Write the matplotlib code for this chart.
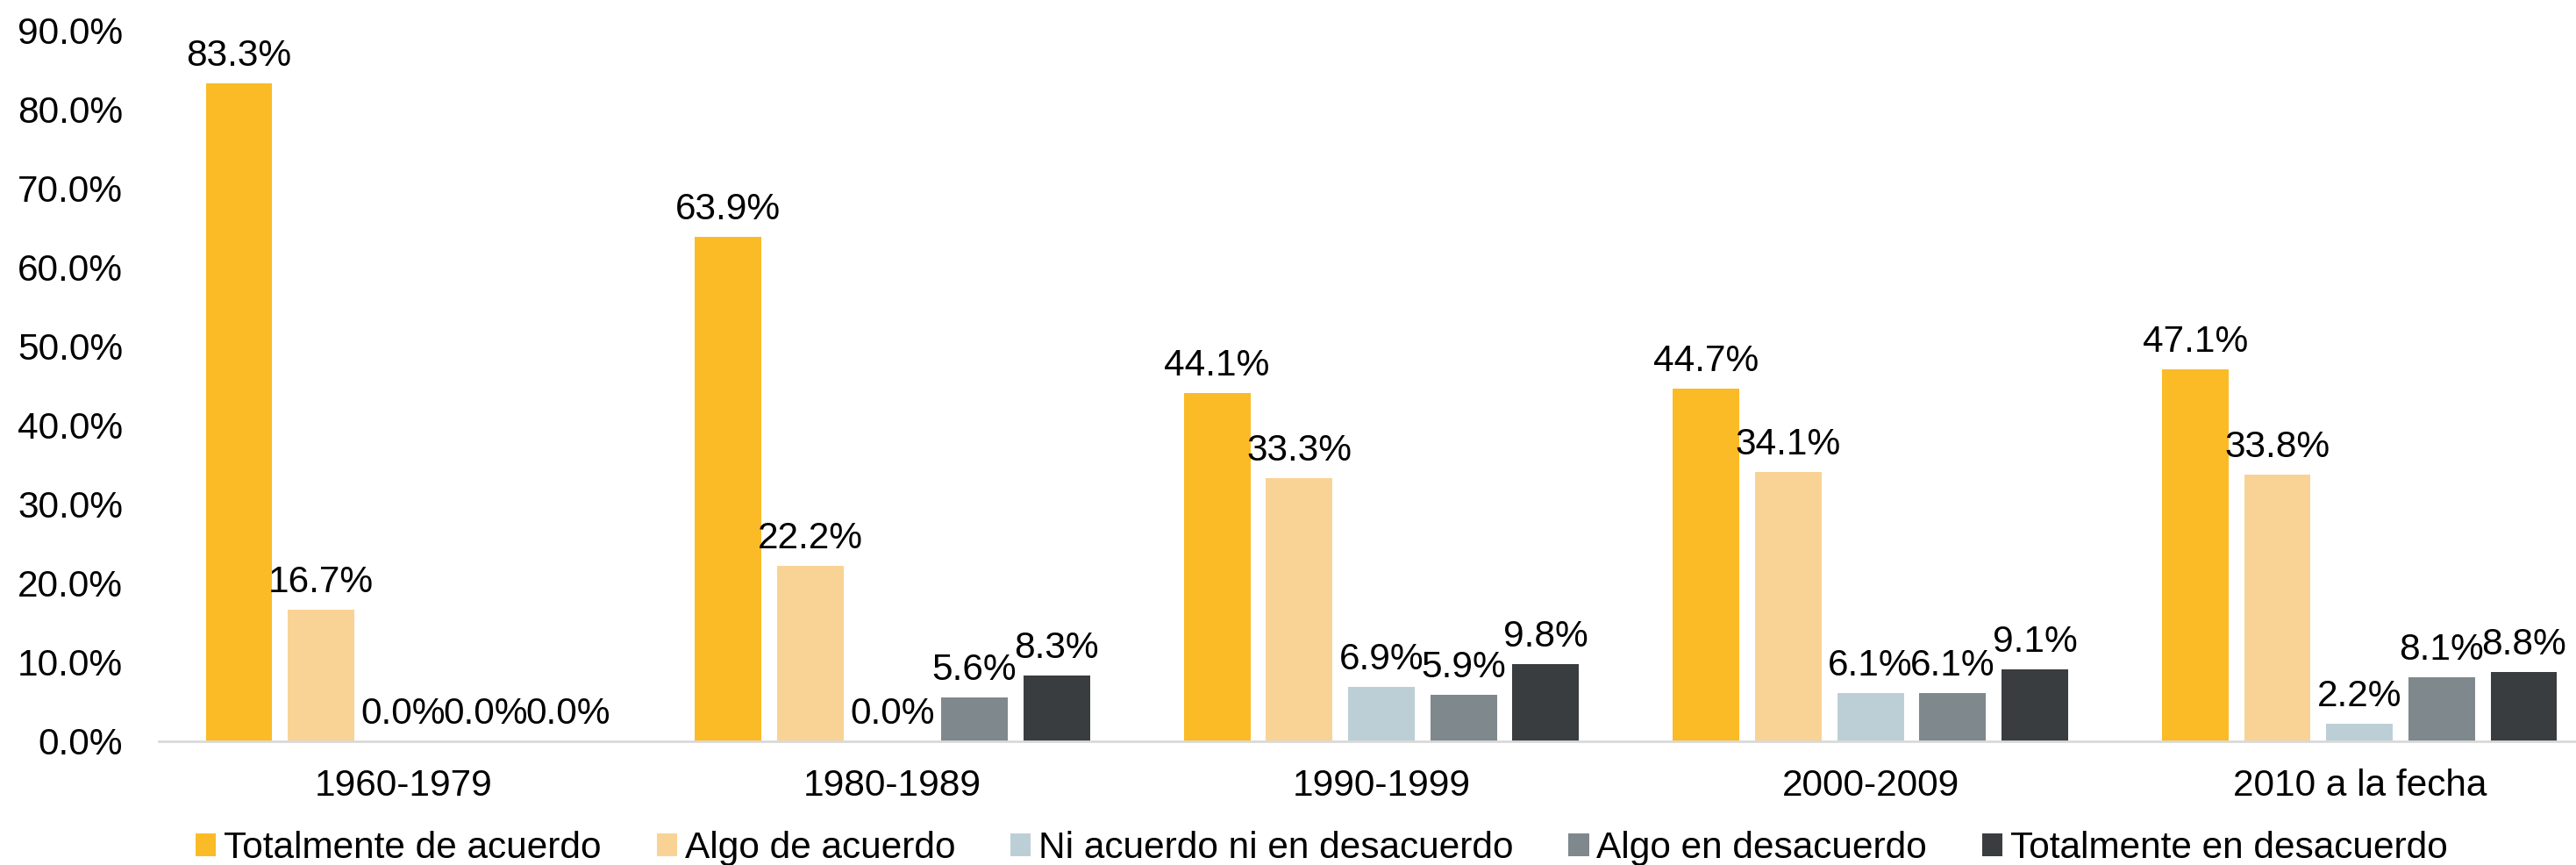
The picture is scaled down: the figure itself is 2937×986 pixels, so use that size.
import matplotlib
matplotlib.use("Agg")
import matplotlib.pyplot as plt
import numpy as np
from matplotlib.patches import Patch

categories = ["1960-1979", "1980-1989", "1990-1999", "2000-2009", "2010 a la fecha"]
series_names = ["Totalmente de acuerdo", "Algo de acuerdo", "Ni acuerdo ni en desacuerdo",
                "Algo en desacuerdo", "Totalmente en desacuerdo"]
totalmente_acuerdo = [83.3, 63.9, 44.1, 44.7, 47.1]
algo_acuerdo = [16.7, 22.2, 33.3, 34.1, 33.8]
ni_acuerdo = [0.0, 0.0, 6.9, 6.1, 2.2]
algo_desacuerdo = [0.0, 5.6, 5.9, 6.1, 8.1]
totalmente_desacuerdo = [0.0, 8.3, 9.8, 9.1, 8.8]
yticks = [0, 10, 20, 30, 40, 50, 60, 70, 80, 90]

series = [totalmente_acuerdo, algo_acuerdo, ni_acuerdo, algo_desacuerdo, totalmente_desacuerdo]
colors = ["#FBBB27", "#F9D395", "#BDCFD6", "#7F888D", "#3A3D40"]

plt.rcParams['font.family'] = ['Liberation Sans', 'DejaVu Sans']
FS = 30.5

W, H = 2937, 986
fig = plt.figure(figsize=(W / 100, H / 100), dpi=100)
left = 181 / W
right = 2969 / W
bottom = (H - 845) / H
top = (H - 35) / H
ax = fig.add_axes([left, bottom, right - left, top - bottom])

x = np.arange(len(categories))
pitch = 0.168
width = 0.136
for i, (vals, c, name) in enumerate(zip(series, colors, series_names)):
    pos = x + (i - 2) * pitch
    bars = ax.bar(pos, vals, width=width, color=c, label=name, zorder=2)
    for px, v in zip(pos, vals):
        ax.annotate(f"{v:.1f}%", (px, v), xytext=(0, 14.4), textcoords="offset points",
                    ha="center", va="baseline", fontsize=FS, color="black")

ax.set_xlim(-0.5, len(categories) - 0.5)
ax.set_ylim(0, 90)
ax.set_yticks(yticks)
ax.set_yticklabels([f"{t:.1f}%" for t in yticks])
ax.set_xticks(x)
ax.set_xticklabels(categories)
ax.tick_params(axis="y", length=0, pad=29.5, labelsize=FS, colors="black")
ax.tick_params(axis="x", length=0, pad=22, labelsize=FS, colors="black")
for s in ["top", "right", "left"]:
    ax.spines[s].set_visible(False)
ax.spines["bottom"].set_color("#D9D9D9")
ax.spines["bottom"].set_linewidth(2)
ax.spines["bottom"].set_zorder(3)

handles = [Patch(facecolor=c, edgecolor="none") for c in colors]
fig.legend(handles, series_names, loc="center", bbox_to_anchor=(1507 / W, (H - 967) / H),
           ncol=5, frameon=False, fontsize=FS, handlelength=0.55, handleheight=0.55,
           handletextpad=0.21, columnspacing=1.48, borderpad=0, borderaxespad=0)

fig.savefig("out.png", dpi=100)
